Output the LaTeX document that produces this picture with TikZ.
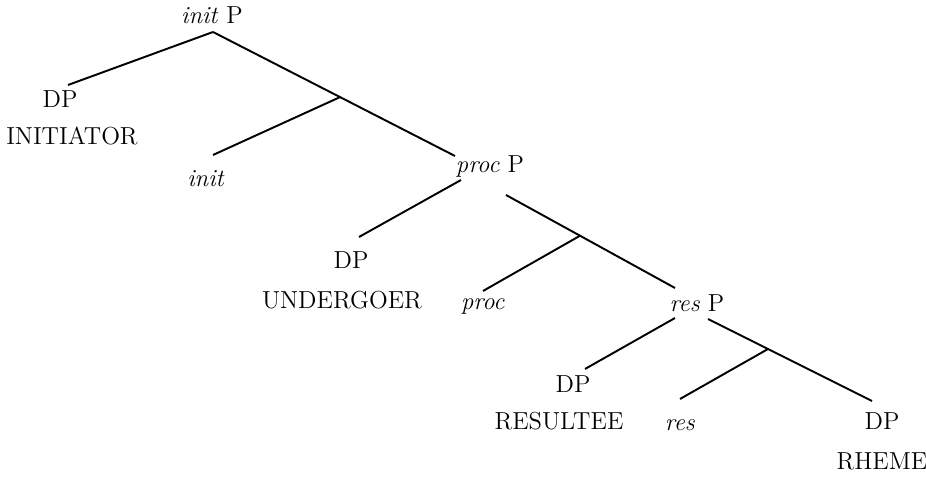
\documentclass[tikz,border=0pt]{standalone}
\usepackage{tikz}
\usepackage{amsmath}

\begin{document}
\begin{tikzpicture}
	\tikzstyle{every node}=[anchor=base,inner sep=0pt,font=\fontsize{14}{16}\selectfont];
	\useasboundingbox (0,0) rectangle (18.52,-9.54);
	\node (iP) at (4.24,-0.48) {\textit{init} P};
	\node (dpA) at (1.20,-2.16) {DP};
	\node (initiator) at (1.44,-2.90) {INITIATOR};
	\node (ini) at (4.12,-3.74) {\textit{init}};
	\node (pP) at (9.80,-3.46) {\textit{proc} P};
	\node (dpB) at (7.02,-5.38) {DP};
	\node (undergoer) at (6.84,-6.18) {UNDERGOER};
	\node (pro) at (9.66,-6.20) {\textit{proc}};
	\node (rP) at (13.94,-6.24) {\textit{res} P};
	\node (dpC) at (11.46,-7.86) {DP};
	\node (resultee) at (11.18,-8.60) {RESULTEE};
	\node (re) at (13.60,-8.62) {\textit{res}};
	\node (dpD) at (17.64,-8.60) {DP};
	\node (rheme) at (17.64,-9.40) {RHEME};
	\begin{scope}[line width=1.1pt]
	% initP
	\draw ([shift={(0.02,-0.16)}]iP.base) -- ([shift={(0.16,0.46)}]dpA.base);
	\draw ([shift={(0.02,-0.16)}]iP.base) -- coordinate[pos=0.525] (b1) ([shift={(-0.70,0.34)}]pP.base);
	\draw (b1) -- ([shift={(0.14,0.64)}]ini.base);
	% procP
	\draw ([shift={(-0.58,-0.14)}]pP.base) -- ([shift={(0.16,0.64)}]dpB.base);
	\draw ([shift={(0.32,-0.44)}]pP.base) -- coordinate[pos=0.438] (b2) ([shift={(-0.44,0.48)}]rP.base);
	\draw (b2) -- ([shift={(0,0.38)}]pro.base);
	% resP
	\draw ([shift={(-0.44,-0.12)}]rP.base) -- ([shift={(0.24,0.48)}]dpC.base);
	\draw ([shift={(0.22,-0.14)}]rP.base) -- coordinate[pos=0.366] (b3) ([shift={(-0.20,0.58)}]dpD.base);
	\draw (b3) -- ([shift={(0,0.64)}]re.base);
	\end{scope}
\end{tikzpicture}
\end{document}
